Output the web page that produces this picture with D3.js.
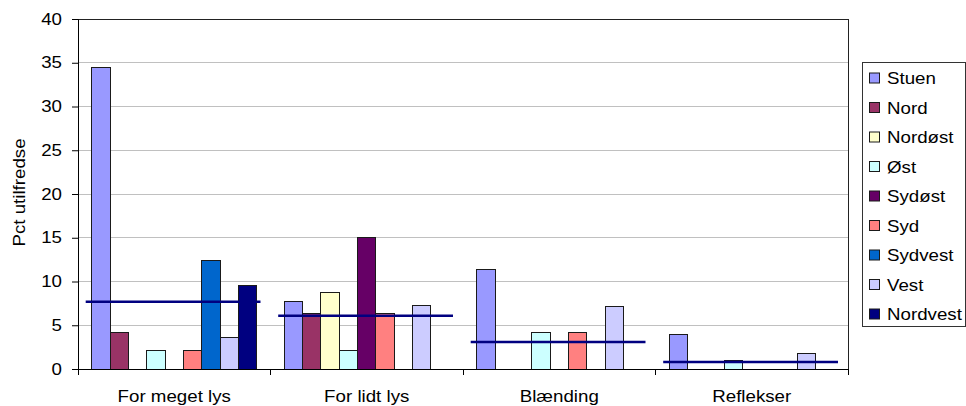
<!DOCTYPE html>
<html>
<head>
<meta charset="utf-8">
<script src="https://cdn.jsdelivr.net/npm/d3@7/dist/d3.min.js"></script>
<style>
  html, body { margin: 0; padding: 0; background: #fff; }
  svg { display: block; }
  text { font-family: "Liberation Sans", Arial, sans-serif; fill: #000; }
</style>
</head>
<body>
<svg id="chart" width="966" height="406"></svg>
<script>
// ---- data ----
const categories = ["For meget lys", "For lidt lys", "Blænding", "Reflekser"];
const seriesNames = ["Stuen", "Nord", "Nordøst", "Øst", "Sydøst", "Syd", "Sydvest", "Vest", "Nordvest"];
const seriesColors = ["#9999FF", "#993366", "#FFFFCC", "#CCFFFF", "#660066", "#FF8080", "#0066CC", "#CCCCFF", "#000080"];
const Stuen    = [34.5, 7.7, 11.4, 3.9];
const Nord     = [4.2, 6.3, null, null];
const Nordost  = [null, 8.7, null, null];
const Ost      = [2.1, 2.1, 4.2, 1.0];
const Sydost   = [null, 15.0, null, null];
const Syd      = [2.1, 6.4, 4.2, null];
const Sydvest  = [12.4, null, null, null];
const Vest     = [3.6, 7.3, 7.2, 1.8];
const Nordvest = [9.5, null, null, null];
const average  = [7.7, 6.1, 3.1, 0.8];
const yTicks   = [0, 5, 10, 15, 20, 25, 30, 35, 40];
const yTitle   = "Pct utilfredse";

const seriesValues = [Stuen, Nord, Nordost, Ost, Sydost, Syd, Sydvest, Vest, Nordvest];

// ---- layout ----
const svg = d3.select("#chart");
const plot = { left: 78, right: 848, top: 19, bottom: 369 };
const SX = 1.17; // horizontal text stretch of the original rendering

const x = d3.scaleBand().domain(categories).range([plot.left, plot.right]).padding(0);
const xs = d3.scaleBand().domain(seriesNames).range([0, x.bandwidth()]).paddingInner(0).paddingOuter(0.75);
const y = d3.scaleLinear().domain([0, 40]).range([plot.bottom, plot.top]);
const color = d3.scaleOrdinal().domain(seriesNames).range(seriesColors);

function stretchedText(g, tx, ty, str, anchor, size, rot) {
  return g.append("text")
    .attr("transform", `translate(${tx},${ty})` + (rot ? ` rotate(${rot})` : "") + ` scale(${SX},1)`)
    .attr("text-anchor", anchor)
    .style("font-size", size + "px")
    .text(str);
}

// gridlines
svg.append("g")
  .selectAll("line")
  .data(yTicks.filter(t => t > 0 && t < 40))
  .join("line")
  .attr("x1", plot.left).attr("x2", plot.right)
  .attr("y1", d => y(d)).attr("y2", d => y(d))
  .attr("stroke", "#C0C0C0").attr("stroke-width", 1)
  .attr("shape-rendering", "crispEdges");

// plot border
svg.append("rect")
  .attr("x", plot.left).attr("y", plot.top)
  .attr("width", plot.right - plot.left).attr("height", plot.bottom - plot.top)
  .attr("fill", "none").attr("stroke", "#222").attr("stroke-width", 1)
  .attr("shape-rendering", "crispEdges");

// bars
const barData = [];
categories.forEach((c, ci) => {
  seriesNames.forEach((s, si) => {
    const v = seriesValues[si][ci];
    if (v != null) barData.push({ c, s, v });
  });
});
svg.append("g")
  .selectAll("rect")
  .data(barData)
  .join("rect")
  .attr("x", d => x(d.c) + xs(d.s))
  .attr("y", d => y(d.v))
  .attr("width", xs.bandwidth())
  .attr("height", d => y(0) - y(d.v))
  .attr("fill", d => color(d.s))
  .attr("stroke", "#1a1a1a").attr("stroke-width", 1)
  .attr("shape-rendering", "crispEdges");

// average lines
svg.append("g")
  .selectAll("line")
  .data(categories.map((c, i) => ({ c, v: average[i] })))
  .join("line")
  .attr("x1", d => x(d.c) + x.bandwidth() * 0.04)
  .attr("x2", d => x(d.c) + x.bandwidth() * 0.948)
  .attr("y1", d => y(d.v)).attr("y2", d => y(d.v))
  .attr("stroke", "#000080").attr("stroke-width", 2.5);

// y axis
const yAxis = svg.append("g")
  .attr("transform", `translate(${plot.left},0)`)
  .call(d3.axisLeft(y).tickValues(yTicks).tickSize(6).tickPadding(0).tickFormat(d3.format("d")));
yAxis.select(".domain").attr("stroke", "#000");
yAxis.selectAll(".tick line").attr("stroke", "#000");
yAxis.selectAll(".tick text")
  .attr("x", -16 / SX)
  .attr("transform", `scale(${SX},1)`)
  .style("font-size", "16px")
  .style("font-family", '"Liberation Sans", Arial, sans-serif');

// x axis
const xAxisG = svg.append("g");
xAxisG.append("line")
  .attr("x1", plot.left).attr("x2", plot.right)
  .attr("y1", plot.bottom).attr("y2", plot.bottom)
  .attr("stroke", "#000").attr("shape-rendering", "crispEdges");
const boundaries = categories.map(c => x(c)).concat([x.range()[1]]);
xAxisG.selectAll("line.tk")
  .data(boundaries)
  .join("line")
  .attr("class", "tk")
  .attr("x1", d => d).attr("x2", d => d)
  .attr("y1", plot.bottom).attr("y2", plot.bottom + 6)
  .attr("stroke", "#000").attr("shape-rendering", "crispEdges");
categories.forEach(c => {
  stretchedText(xAxisG, x(c) + x.bandwidth() / 2, 402, c, "middle", 16);
});

// y title
stretchedText(svg.append("g"), 25, 192.5, yTitle, "middle", 16, -90)
  .attr("transform", `translate(25,192.5) rotate(-90) scale(${SX},1)`);

// legend
const lg = svg.append("g");
lg.append("rect")
  .attr("x", 862).attr("y", 62)
  .attr("width", 103).attr("height", 264)
  .attr("fill", "#fff").attr("stroke", "#333").attr("stroke-width", 1)
  .attr("shape-rendering", "crispEdges");
const rowY = d3.scalePoint().domain(seriesNames).range([78, 314]);
seriesNames.forEach(s => {
  lg.append("rect")
    .attr("x", 869.5).attr("y", rowY(s) - 5)
    .attr("width", 10).attr("height", 10)
    .attr("fill", color(s)).attr("stroke", "#1a1a1a").attr("stroke-width", 1);
  stretchedText(lg, 887, rowY(s) + 6, s, "start", 16);
});
</script>
</body>
</html>
